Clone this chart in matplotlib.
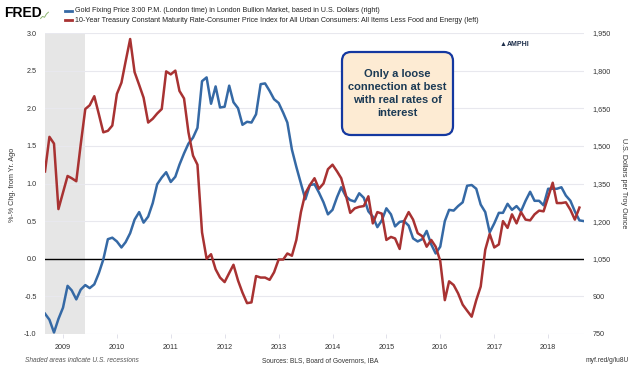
"""
plot.py

Gold fixing price vs. 10-year real rate (10Y Treasury minus core CPI yoy), FRED style
"""

import matplotlib
matplotlib.use('Agg')
import matplotlib.pyplot as plt
import matplotlib.dates as mdates
from matplotlib.patches import FancyBboxPatch
from matplotlib.lines import Line2D
from matplotlib.transforms import IdentityTransform
from matplotlib.ticker import FuncFormatter, MultipleLocator
import pandas as pd

plt.rcParams['font.family'] = ['Liberation Sans', 'DejaVu Sans']

# monthly, Sep 2008 .. Sep 2018
start = '2008-09-01'

# 10-Year Treasury minus core CPI (% chg from yr ago), left axis -- ends Aug 2018
real_rate = [
    1.16, 1.62, 1.53, 0.66, 0.88, 1.10, 1.07, 1.03, 1.52, 1.99,
    2.04, 2.16, 1.92, 1.68, 1.70, 1.77, 2.19, 2.34, 2.62, 2.92,
    2.48, 2.31, 2.14, 1.81, 1.86, 1.93, 1.99, 2.49, 2.45, 2.50,
    2.23, 2.13, 1.68, 1.37, 1.25, 0.35, 0.00, 0.06, -0.14, -0.25,
    -0.31, -0.19, -0.08, -0.29, -0.45, -0.59, -0.58, -0.23, -0.25, -0.25,
    -0.28, -0.18, -0.01, -0.01, 0.07, 0.04, 0.25, 0.62, 0.87, 0.98,
    1.07, 0.93, 1.00, 1.19, 1.25, 1.16, 1.07, 0.85, 0.61, 0.67,
    0.69, 0.70, 0.83, 0.47, 0.62, 0.60, 0.25, 0.29, 0.27, 0.13,
    0.50, 0.62, 0.52, 0.34, 0.30, 0.16, 0.25, 0.16, -0.03, -0.55,
    -0.30, -0.35, -0.46, -0.61, -0.69, -0.77, -0.55, -0.37, 0.12, 0.33,
    0.15, 0.19, 0.50, 0.41, 0.59, 0.47, 0.62, 0.52, 0.51, 0.59,
    0.64, 0.63, 0.82, 1.01, 0.74, 0.74, 0.75, 0.65, 0.52, 0.68,
]

# Gold fixing price, USD per troy ounce, right axis -- ends Sep 2018
gold = [
    831, 807, 756, 810, 855, 942, 924, 888, 927, 945,
    933, 948, 993, 1047, 1128, 1134, 1119, 1095, 1116, 1152,
    1206, 1236, 1194, 1218, 1272, 1347, 1374, 1395, 1356, 1377,
    1425, 1470, 1509, 1533, 1572, 1758, 1773, 1668, 1737, 1653,
    1656, 1740, 1674, 1650, 1584, 1596, 1593, 1626, 1746, 1749,
    1719, 1686, 1671, 1632, 1593, 1485, 1416, 1350, 1287, 1344,
    1347, 1314, 1275, 1227, 1245, 1296, 1335, 1299, 1284, 1278,
    1311, 1293, 1239, 1218, 1176, 1203, 1251, 1227, 1179, 1197,
    1200, 1182, 1131, 1119, 1128, 1161, 1107, 1071, 1098, 1200,
    1245, 1242, 1260, 1275, 1341, 1344, 1329, 1266, 1236, 1155,
    1191, 1233, 1233, 1269, 1245, 1260, 1239, 1281, 1317, 1281,
    1281, 1263, 1329, 1329, 1329, 1335, 1302, 1281, 1239, 1203,
    1200,
]

recession = ('2008-09-01', '2009-06-01')

gold_label = 'Gold Fixing Price 3:00 P.M. (London time) in London Bullion Market, based in U.S. Dollars (right)'
rate_label = ('10-Year Treasury Constant Maturity Rate-Consumer Price Index for All Urban Consumers: '
              'All Items Less Food and Energy (left)')
note = 'Only a loose\nconnection at best\nwith real rates of\ninterest'

gold_dates = pd.date_range(start, periods=len(gold), freq='MS')
rate_dates = pd.date_range(start, periods=len(real_rate), freq='MS')

BLUE = '#3569a5'
RED = '#a83232'
W, H = 640, 367

fig = plt.figure(figsize=(W / 100, H / 100), dpi=100)
fig.patch.set_facecolor('white')


def fx(px):
    return px / W


def fy(py):
    return 1 - py / H


ax = fig.add_axes([fx(45), fy(334), fx(584) - fx(45), fy(33) - fy(334)])
ax_r = ax.twinx()
# red (left) drawn above blue (right)
ax.set_zorder(ax_r.get_zorder() + 1)
ax.patch.set_visible(False)

ax_r.axvspan(pd.Timestamp(recession[0]), pd.Timestamp(recession[1]), color='#e6e6e6', lw=0, zorder=0)
ax_r.axhline(1050, color='black', lw=1.0, zorder=1)
ax_r.plot(gold_dates, gold, color=BLUE, lw=1.8, zorder=3, solid_joinstyle='round')
ax.plot(rate_dates, real_rate, color=RED, lw=1.8, zorder=3, solid_joinstyle='round')

ax.set_xlim(gold_dates[0], gold_dates[-1])
ax.set_ylim(-1.0, 3.0)
ax_r.set_ylim(750, 1950)
ax.yaxis.set_major_locator(MultipleLocator(0.5))
ax_r.yaxis.set_major_locator(MultipleLocator(150))
ax.yaxis.set_major_formatter(FuncFormatter(lambda v, p: '%.1f' % v))
ax_r.yaxis.set_major_formatter(FuncFormatter(lambda v, p: '{:,.0f}'.format(v)))
ax_r.grid(axis='y', color='#e8e8ee', lw=0.8)
ax_r.set_axisbelow(True)

ax.xaxis.set_major_locator(mdates.YearLocator())
ax.xaxis.set_major_formatter(mdates.DateFormatter('%Y'))

for a in (ax, ax_r):
    for s in a.spines.values():
        s.set_visible(False)
ax.tick_params(axis='y', length=0, pad=6, labelsize=5.2, labelcolor='#333333')
ax_r.tick_params(axis='y', length=0, pad=6, labelsize=5.2, labelcolor='#333333')
ax.tick_params(axis='x', length=3, width=0.6, color='#dcdce6', pad=4, labelsize=5.2, labelcolor='#333333')

fig.text(fx(13), fy(185), '%-% Chg. from Yr. Ago', rotation=90, ha='center', va='center',
         fontsize=5.2, color='#333333')
fig.text(fx(624), fy(183), 'U.S. Dollars per Troy Ounce', rotation=270, ha='center', va='center',
         fontsize=5.2, color='#333333')

# header: FRED logo + legend
fig.text(fx(4), fy(13), 'FRED', fontsize=10, fontweight='bold', color='black', va='center', ha='left')
icon = fig.add_axes([fx(40), fy(20), fx(9), fx(9) * W / H])
icon.plot([0, 1, 2, 3, 4], [0.5, 1.2, 0.9, 2.0, 2.6], color='#8fb573', lw=0.7)
icon.set_xlim(-0.3, 4.3)
icon.set_ylim(0, 3)
icon.axis('off')

fig.add_artist(Line2D([fx(65), fx(72)], [fy(10.5), fy(10.5)], color=BLUE, lw=2))
fig.add_artist(Line2D([fx(65), fx(72)], [fy(20), fy(20)], color=RED, lw=2))
fig.text(fx(75), fy(10.5), gold_label, fontsize=5.1, va='center', ha='left', color='#222222')
fig.text(fx(75), fy(20), rate_label, fontsize=5.1, va='center', ha='left', color='#222222')

# AMPHI logo
fig.text(fx(503), fy(44), '\u25B2', fontsize=5, color='#1d2e4a', va='center', ha='center')
fig.text(fx(507), fy(44), 'AMPHI', fontsize=5, fontweight='bold', color='#1d2e4a', va='center', ha='left')

# annotation box
box = FancyBboxPatch((342, H - 135), 111, 83, boxstyle='round,pad=0,rounding_size=9',
                     transform=IdentityTransform(), facecolor='#fdebd3', edgecolor='#1438a0', lw=1.6)
fig.add_artist(box)
fig.text(fx(397.5), fy(93.5), note, ha='center', va='center', fontsize=8, fontweight='bold',
         color='#1b3a55', linespacing=1.38)

# footer
fig.text(fx(25), fy(361), 'Shaded areas indicate U.S. recessions', fontsize=4.8, style='italic',
         color='#555555', va='center', ha='left')
fig.text(fx(320), fy(361), 'Sources: BLS, Board of Governors, IBA', fontsize=4.8, color='#333333',
         va='center', ha='center')
fig.text(fx(629), fy(361), 'myf.red/g/lu8U', fontsize=4.8, color='#333333', va='center', ha='right')

fig.savefig('out.png', dpi=100)
